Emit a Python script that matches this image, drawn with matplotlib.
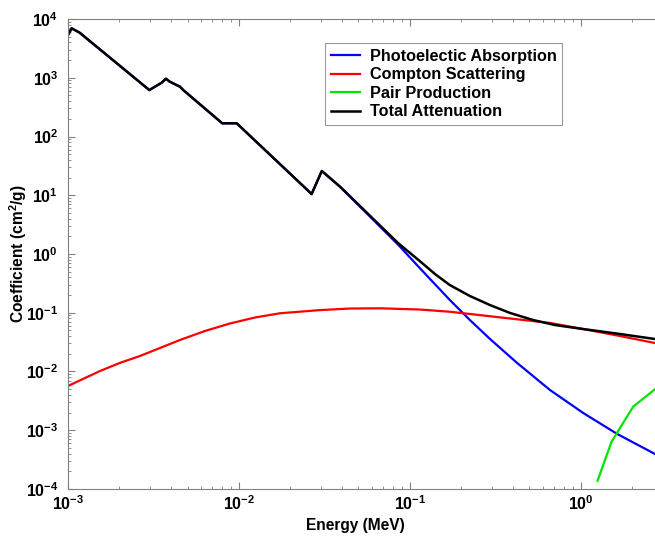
import matplotlib
matplotlib.use("Agg")
import matplotlib.pyplot as plt
from matplotlib.ticker import LogLocator, NullFormatter

plt.rcParams['font.family'] = ['Liberation Sans', 'DejaVu Sans']
plt.rcParams['font.weight'] = 'bold'
plt.rcParams['mathtext.fontset'] = 'custom'
plt.rcParams['mathtext.rm'] = 'Liberation Sans:bold'
plt.rcParams['mathtext.bf'] = 'Liberation Sans:bold'

# energies (MeV) and coefficients (cm^2/g)
total_E = [0.001, 0.00105, 0.00117, 0.00299, 0.00353, 0.00374, 0.00394, 0.00452,
           0.00472, 0.00798, 0.0097, 0.0266, 0.0305, 0.039, 0.0851, 0.114, 0.140,
           0.171, 0.224, 0.294, 0.385, 0.524, 0.705, 1.03, 1.69, 2.71]
total_mu = [5350, 6950, 5850, 618, 824, 964, 857, 704,
            618, 168, 168, 10.5, 25.9, 14.0, 1.54, 0.76, 0.457,
            0.296, 0.193, 0.135, 0.0991, 0.0753, 0.0618, 0.0528, 0.0435, 0.0357]

photo_E = [0.001, 0.00105, 0.00117, 0.00299, 0.00353, 0.00374, 0.00394, 0.00452,
           0.00472, 0.00798, 0.0097, 0.0266, 0.0305, 0.039, 0.0851, 0.114, 0.171,
           0.224, 0.294, 0.423, 0.659, 1.03, 1.63, 2.71]
photo_mu = [5350, 6950, 5850, 618, 824, 964, 857, 704,
            618, 168, 168, 10.5, 25.9, 14.0, 1.45, 0.578, 0.165,
            0.0753, 0.0357, 0.0140, 0.00484, 0.00197, 0.000863, 0.000394]

compton_E = [0.001, 0.001256, 0.00154, 0.00201, 0.00264, 0.00345, 0.00452, 0.00632,
             0.00885, 0.0124, 0.0174, 0.0298, 0.0446, 0.0668, 0.114, 0.171, 0.224,
             0.385, 0.659, 1.03, 1.69, 2.71]
compton_mu = [0.00566, 0.00774, 0.0102, 0.0140, 0.0184, 0.0251, 0.0344, 0.0489,
              0.0656, 0.0830, 0.098, 0.111, 0.118, 0.119, 0.1135, 0.104, 0.0953,
              0.0798, 0.0670, 0.0528, 0.0402, 0.0305]

pair_E = [1.25, 1.51, 2.02, 2.71]
pair_mu = [0.000138, 0.000638, 0.00252, 0.0050]

fig = plt.figure(figsize=(6.55, 5.39), dpi=100)
ax = fig.add_axes([0.1038, 0.0928, 0.8962, 0.8719])

ax.plot(photo_E, photo_mu, color='#0000ff', lw=1.6, label='Photoelectic Absorption')
ax.plot(compton_E, compton_mu, color='#ff0000', lw=1.6, label='Compton Scattering')
ax.plot(pair_E, pair_mu, color='#00e600', lw=1.6, label='Pair Production')
ax.plot(total_E, total_mu, color='black', lw=1.8, label='Total Attenuation')

ax.set_xscale('log')
ax.set_yscale('log')
ax.set_xlim(1e-3, 10 ** 0.433)
ax.set_ylim(1e-4, 1e4)

ax.xaxis.set_major_locator(LogLocator(base=10, numticks=20))
ax.yaxis.set_major_locator(LogLocator(base=10, numticks=20))
ax.xaxis.set_minor_locator(LogLocator(base=10, subs=range(2, 10), numticks=20))
ax.yaxis.set_minor_locator(LogLocator(base=10, subs=range(2, 10), numticks=20))
ax.xaxis.set_minor_formatter(NullFormatter())
ax.yaxis.set_minor_formatter(NullFormatter())

ax.tick_params(which='both', direction='in', top=True, right=False, colors='#808080',
               labelcolor='black', labelsize=11.5)
ax.tick_params(which='major', length=5, width=0.8, pad=7)
ax.tick_params(axis='x', which='major', pad=4)
ax.tick_params(which='minor', length=2.5, width=0.6)
for s in ['left', 'bottom', 'top']:
    ax.spines[s].set_color('#808080')
ax.spines['right'].set_visible(False)

ax.set_xlabel('Energy (MeV)', fontsize=11.2, fontweight='bold')
ax.set_ylabel('Coefficient (cm$^2$/g)', fontsize=11.2, fontweight='bold')
ax.xaxis.set_label_coords(0.489, -0.062)
ax.yaxis.set_label_coords(-0.067, 0.5)

leg = ax.legend(loc='upper left', bbox_to_anchor=(0.438, 0.949), fontsize=11.7,
                fancybox=False, handlelength=1.8, borderpad=0.35, labelspacing=0.22,
                handletextpad=0.6, borderaxespad=0)
leg.get_frame().set_edgecolor('#808080')
leg.get_frame().set_linewidth(0.8)

fig.savefig('out.png', dpi=100)
